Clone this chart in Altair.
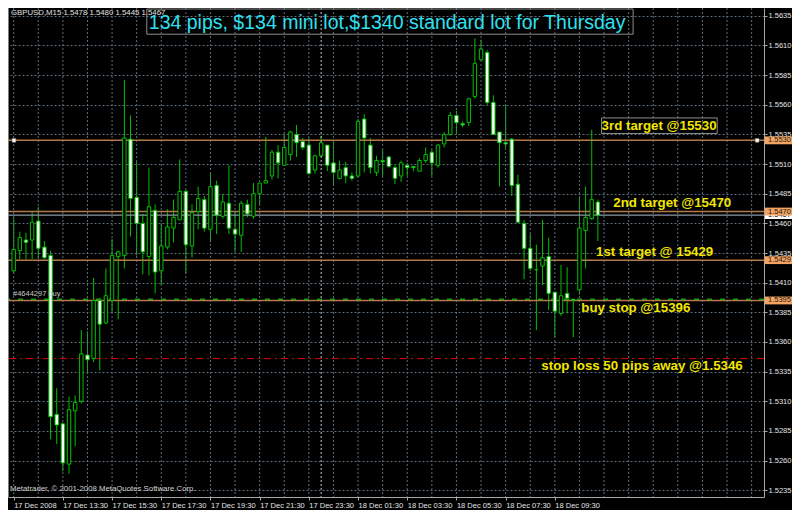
import json
import altair as alt
import pandas as pd

# ---------------- data ----------------
OPEN = [1.5420, 1.5437, 1.5446, 1.5446, 1.5462, 1.5440, 1.5433, 1.5299, 1.5291, 1.5257,
        1.5302, 1.5310, 1.5349, 1.5346, 1.5395, 1.5376, 1.5395, 1.5432, 1.5433, 1.5531,
        1.5482, 1.5460, 1.5432, 1.5471, 1.5420, 1.5440, 1.5456, 1.5463, 1.5487, 1.5441,
        1.5470, 1.5480, 1.5455, 1.5492, 1.5466, 1.5477, 1.5455, 1.5450, 1.5476, 1.5466,
        1.5485, 1.5494, 1.5500, 1.5520, 1.5509, 1.5518, 1.5535, 1.5529, 1.5526, 1.5505,
        1.5517, 1.5526, 1.5511, 1.5498, 1.5507, 1.5500, 1.5500, 1.5548, 1.5526, 1.5503,
        1.5513, 1.5516, 1.5507, 1.5500, 1.5509, 1.5508, 1.5504, 1.5513, 1.5520, 1.5509,
        1.5527, 1.5535, 1.5551, 1.5544, 1.5545, 1.5567, 1.5598, 1.5604, 1.5562, 1.5537,
        1.5528, 1.5531, 1.5493, 1.5460, 1.5439, 1.5421, 1.5424, 1.5432, 1.5402, 1.5384,
        1.5401, 1.5396, 1.5404, 1.5454, 1.5464, 1.5478]
HIGH = [1.5465, 1.5453, 1.5452, 1.5470, 1.5474, 1.5445, 1.5437, 1.5321, 1.5292, 1.5314,
        1.5315, 1.5370, 1.5369, 1.5414, 1.5397, 1.5422, 1.5447, 1.5437, 1.5581, 1.5551,
        1.5512, 1.5468, 1.5507, 1.5476, 1.5460, 1.5472, 1.5480, 1.5514, 1.5488, 1.5476,
        1.5491, 1.5483, 1.5502, 1.5496, 1.5485, 1.5509, 1.5470, 1.5479, 1.5480, 1.5494,
        1.5494, 1.5533, 1.5522, 1.5526, 1.5535, 1.5538, 1.5543, 1.5532, 1.5532, 1.5518,
        1.5534, 1.5526, 1.5530, 1.5513, 1.5512, 1.5503, 1.5548, 1.5552, 1.5532, 1.5517,
        1.5522, 1.5517, 1.5509, 1.5513, 1.5511, 1.5508, 1.5515, 1.5524, 1.5522, 1.5527,
        1.5537, 1.5554, 1.5555, 1.5546, 1.5566, 1.5616, 1.5615, 1.5606, 1.5568, 1.5537,
        1.5560, 1.5532, 1.5501, 1.5463, 1.5451, 1.5442, 1.5463, 1.5448, 1.5402, 1.5425,
        1.5423, 1.5396, 1.5482, 1.5491, 1.5539, 1.5480]
LOW = [1.5418, 1.5430, 1.5430, 1.5430, 1.5430, 1.5430, 1.5278, 1.5274, 1.5251, 1.5249,
       1.5272, 1.5308, 1.5333, 1.5343, 1.5336, 1.5375, 1.5385, 1.5379, 1.5422, 1.5449,
       1.5433, 1.5417, 1.5416, 1.5401, 1.5408, 1.5438, 1.5444, 1.5463, 1.5418, 1.5431,
       1.5455, 1.5453, 1.5444, 1.5451, 1.5464, 1.5451, 1.5436, 1.5436, 1.5465, 1.5464,
       1.5476, 1.5494, 1.5497, 1.5498, 1.5509, 1.5513, 1.5516, 1.5522, 1.5501, 1.5502,
       1.5516, 1.5504, 1.5492, 1.5497, 1.5494, 1.5496, 1.5499, 1.5503, 1.5502, 1.5500,
       1.5500, 1.5507, 1.5493, 1.5495, 1.5500, 1.5504, 1.5504, 1.5511, 1.5500, 1.5507,
       1.5524, 1.5534, 1.5535, 1.5541, 1.5542, 1.5565, 1.5597, 1.5560, 1.5535, 1.5491,
       1.5524, 1.5483, 1.5461, 1.5413, 1.5420, 1.5370, 1.5408, 1.5387, 1.5364, 1.5382,
       1.5384, 1.5364, 1.5400, 1.5422, 1.5463, 1.5445]
CLOSE = [1.5438, 1.5448, 1.5444, 1.5461, 1.5439, 1.5431, 1.5297, 1.5290, 1.5258, 1.5303,
         1.5309, 1.5350, 1.5345, 1.5395, 1.5375, 1.5399, 1.5433, 1.5436, 1.5532, 1.5481,
         1.5460, 1.5436, 1.5474, 1.5419, 1.5441, 1.5457, 1.5465, 1.5487, 1.5442, 1.5469,
         1.5481, 1.5456, 1.5491, 1.5467, 1.5478, 1.5456, 1.5451, 1.5477, 1.5468, 1.5485,
         1.5494, 1.5496, 1.5520, 1.5511, 1.5524, 1.5537, 1.5528, 1.5524, 1.5502, 1.5517,
         1.5528, 1.5509, 1.5503, 1.5505, 1.5500, 1.5498, 1.5546, 1.5532, 1.5507, 1.5513,
         1.5512, 1.5508, 1.5498, 1.5511, 1.5507, 1.5507, 1.5513, 1.5518, 1.5511, 1.5526,
         1.5535, 1.5551, 1.5545, 1.5543, 1.5565, 1.5595, 1.5607, 1.5562, 1.5535, 1.5528,
         1.5527, 1.5492, 1.5461, 1.5439, 1.5422, 1.5421, 1.5431, 1.5401, 1.5386, 1.5399,
         1.5397, 1.5395, 1.5456, 1.5465, 1.5480, 1.5467]

PRICE_TICKS = [1.5235, 1.5260, 1.5285, 1.5310, 1.5335, 1.5360, 1.5385, 1.5410, 1.5435,
               1.5460, 1.5485, 1.5510, 1.5535, 1.5560, 1.5585, 1.5610, 1.5635]
TIME_TICK_BARS = [0, 8, 16, 24, 32, 40, 48, 56, 64, 72, 80, 88]
TIME_LABELS = ["17 Dec 2008", "17 Dec 13:30", "17 Dec 15:30", "17 Dec 17:30",
               "17 Dec 19:30", "17 Dec 21:30", "17 Dec 23:30", "18 Dec 01:30",
               "18 Dec 03:30", "18 Dec 05:30", "18 Dec 07:30", "18 Dec 09:30"]
GRID_BARS = list(range(0, 121, 4))
DAY_SEPARATOR_BARS = [50]

LEVELS = [1.5530, 1.5470, 1.5429, 1.5395]
BID = [1.5467]
ORDER = [1.5396]
STOP = [1.5346]
TRENDLINE_ENDS = [0.05, 120.9]

ANN_TEXT = ["3rd target @15530", "2nd target @15470", "1st target @ 15429",
            "buy stop @15396", "stop loss 50 pips away @1.5346"]
ANN_BAR = [95.6, 97.5, 94.7, 92.3, 85.8]
ANN_PRICE = [1.55424, 1.54776, 1.54358, 1.53883, 1.53399]
ANN_BOX = {"x0": [95.6], "x1": [114.4], "y0": [1.55489], "y1": [1.55358]}

TITLE = "134 pips, $134 mini lot,$1340 standard lot for Thursday"
HEADER = "GBPUSD,M15  1.5478 1.5480 1.5445 1.5467"
COPYRIGHT = "Metatrader, \u00a9 2001-2008 MetaQuotes Software Corp."
ORDER_LABEL = "#4644297 buy"

# ---------------- chart ----------------
W, H = 756, 489
FONT = "Liberation Sans"
GRID = "#5C6C7C"
FRAME = "#A8A8A8"
GREEN = "#00C000"

xs = alt.Scale(domain=[-0.11, 121.2], nice=False, zero=False)
ys = alt.Scale(domain=[1.52293, 1.56416], nice=False, zero=False)

candles = pd.DataFrame({"bar": list(range(len(OPEN))), "open": OPEN, "high": HIGH,
                        "low": LOW, "close": CLOSE})

label_expr = f"{json.dumps(TIME_LABELS)}[indexof({json.dumps(TIME_TICK_BARS)}, datum.value)]"

x_axis = alt.Axis(values=TIME_TICK_BARS, labelExpr=label_expr, title=None, grid=False,
                  labelAlign="left", labelBaseline="top", labelPadding=1, tickSize=3,
                  tickColor=FRAME, domainColor=FRAME, labelColor="#E4E4E4",
                  labelFont=FONT, labelFontSize=7.5, labelFlush=False,
                  labelOverlap=False, labelBound=False)
y_axis = alt.Axis(orient="right", values=PRICE_TICKS, format=".4f", title=None,
                  grid=True, gridColor=GRID, gridDash=[2, 2], gridWidth=1,
                  tickSize=3, tickColor=FRAME, domainColor=FRAME, labelColor="#E4E4E4",
                  labelFont=FONT, labelFontSize=7.5, labelPadding=1,
                  labelOverlap=False, labelFlush=False)


def xq(field):
    return alt.X(field, type="quantitative", scale=xs, axis=x_axis)


def yq(field):
    return alt.Y(field, type="quantitative", scale=ys, axis=y_axis)


vgrid = alt.Chart(pd.DataFrame({"bar": GRID_BARS})).mark_rule(
    color=GRID, strokeDash=[2, 2], strokeWidth=1).encode(x=xq("bar"))

daysep = alt.Chart(pd.DataFrame({"bar": DAY_SEPARATOR_BARS})).mark_rule(
    color="#C4C4C4", strokeDash=[2, 2], strokeWidth=1).encode(x=xq("bar"))

wicks = alt.Chart(candles).mark_rule(color=GREEN, strokeWidth=1).encode(
    x=xq("bar"), y=yq("low"), y2="high:Q")

bodies = alt.Chart(candles).mark_bar(size=3.4, stroke=GREEN, strokeWidth=1,
                                     orient="vertical").encode(
    x=xq("bar"),
    y=yq("open"),
    y2="close:Q",
    fill=alt.when(alt.datum.close < alt.datum.open).then(alt.value("white")).otherwise(alt.value("black")),
)

levels = alt.Chart(pd.DataFrame({"price": LEVELS})).mark_rule(
    color="#B47A4A", strokeWidth=1.5).encode(y=yq("price"))

bid = alt.Chart(pd.DataFrame({"price": BID})).mark_rule(
    color="#8C98A4", strokeWidth=1.3).encode(y=yq("price"))

order = alt.Chart(pd.DataFrame({"price": ORDER})).mark_rule(
    color="#14A014", strokeWidth=1.5, strokeDash=[5, 8]).encode(y=yq("price"))

stop = alt.Chart(pd.DataFrame({"price": STOP})).mark_rule(
    color="#E00000", strokeWidth=1, strokeDash=[7, 4, 2, 4]).encode(y=yq("price"))

ends = alt.Chart(pd.DataFrame({"bar": TRENDLINE_ENDS, "price": [LEVELS[0]] * 2})).mark_square(
    size=14, fill="white", stroke="#808080", strokeWidth=0.6, opacity=1).encode(
    x=xq("bar"), y=yq("price"))


def tag_layers(prices, fill):
    base = alt.Chart(pd.DataFrame({"price": prices}))
    box = base.transform_calculate(
        top="datum.price + 0.00033", bot="datum.price - 0.00033"
    ).mark_rect(fill=fill).encode(
        x=alt.value(W + 1), x2=alt.value(W + 28), y=yq("top"), y2="bot:Q")
    txt = base.mark_text(align="left", baseline="middle", font=FONT, fontSize=7.5,
                         color="#1A1A1A").encode(
        x=alt.value(W + 4), y=yq("price"), text=alt.Text("price:Q", format=".4f"))
    return [box, txt]


ann = alt.Chart(pd.DataFrame({"bar": ANN_BAR, "price": ANN_PRICE, "label": ANN_TEXT})).mark_text(
    align="left", baseline="middle", font=FONT, fontWeight="bold", fontSize=13.3,
    color="#F2E600").encode(x=xq("bar"), y=yq("price"), text="label:N")

ann_box = alt.Chart(pd.DataFrame(ANN_BOX)).mark_rect(
    fillOpacity=0, stroke="#8C8C8C", strokeWidth=1).encode(
    x=xq("x0"), x2="x1:Q", y=yq("y0"), y2="y1:Q")

one = pd.DataFrame({"t": [TITLE], "h": [HEADER], "c": [COPYRIGHT], "o": [ORDER_LABEL],
                    "p": ORDER})

title_box = alt.Chart(one).mark_rect(fillOpacity=0, stroke="#8C8C8C", strokeWidth=1).encode(
    x=alt.value(138.8), x2=alt.value(625.1), y=alt.value(1), y2=alt.value(26.2))
title = alt.Chart(one).mark_text(align="left", baseline="middle", font=FONT, fontSize=19.5,
                                 color="#2EE0F0").encode(
    x=alt.value(140.8), y=alt.value(14.6), text="t:N")
header = alt.Chart(one).mark_text(align="left", baseline="middle", font=FONT, fontSize=7.8,
                                  color="#E0E0E0").encode(
    x=alt.value(3), y=alt.value(5.3), text="h:N")
copyright_ = alt.Chart(one).mark_text(align="left", baseline="middle", font=FONT, fontSize=7.8,
                                      color="#D0D0D0").encode(
    x=alt.value(2), y=alt.value(481), text="c:N")
order_lbl = alt.Chart(one).mark_text(align="left", baseline="middle", font=FONT, fontSize=7.5,
                                     color="#C8C8C8", dy=-5).encode(
    x=alt.value(5), y=yq("p"), text="o:N")

left_border = alt.Chart(one).mark_rule(color=FRAME, strokeWidth=1.5).encode(
    x=alt.value(0), y=alt.value(0), y2=alt.value(H))

layers = [wicks, vgrid, daysep, levels, bid, order, stop, ends, bodies]
layers += tag_layers(BID, "white")
layers += tag_layers(LEVELS, "#F4A460")
layers += [ann_box, ann, title_box, title, header, copyright_, order_lbl, left_border]

chart = alt.layer(*layers).properties(
    width=W, height=H,
    autosize=alt.AutoSizeParams(type="none"),
    padding={"left": 0, "top": 0, "right": 28, "bottom": 13},
    background="black",
).configure_view(stroke=None)

chart.save("out.html", embed_options={"renderer": "svg", "actions": False})
